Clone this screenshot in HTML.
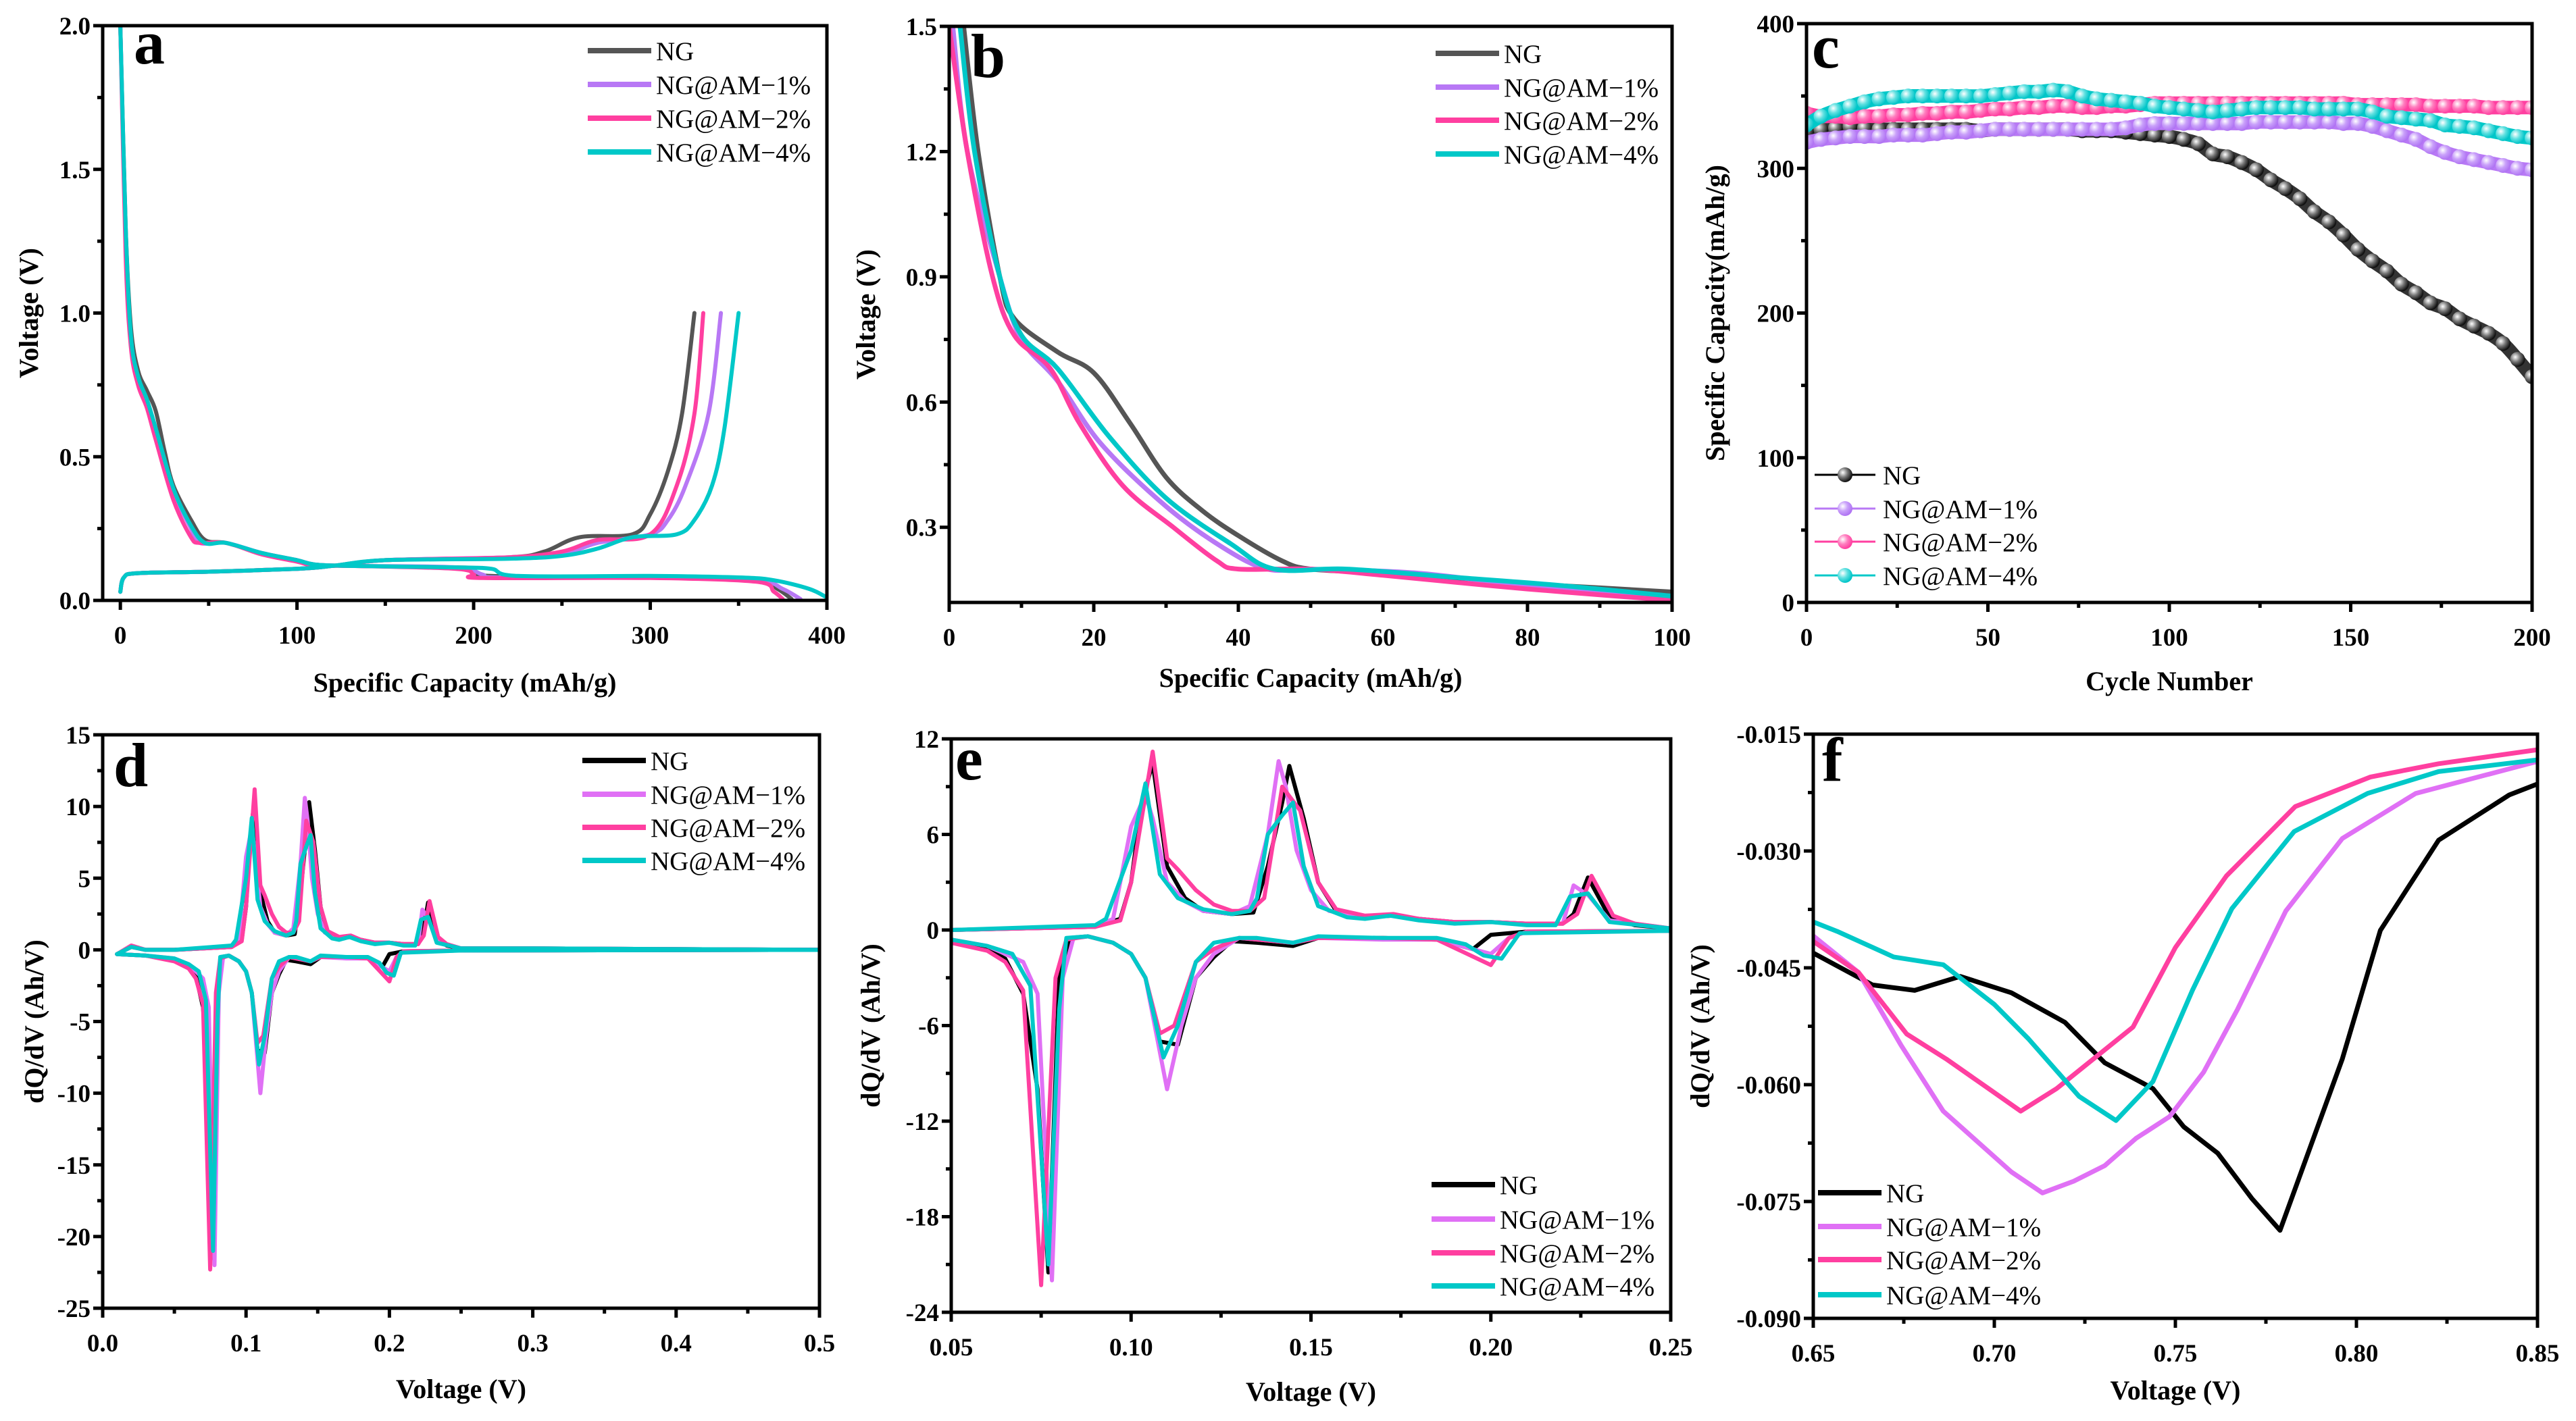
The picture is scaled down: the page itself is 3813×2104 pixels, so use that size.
<!DOCTYPE html>
<html><head><meta charset="utf-8">
<style>
html,body{margin:0;padding:0;background:#fff;}
svg{display:block;}
text{font-family:"Liberation Serif","DejaVu Serif",serif;}
.tick{font-weight:bold;font-size:37px;}
.title{font-weight:bold;font-size:40px;}
.leg{font-size:39px;}
.plab{font-weight:bold;font-size:92px;}
</style></head>
<body>
<svg id="fig" width="3813" height="2104" viewBox="0 0 3813 2104" xmlns="http://www.w3.org/2000/svg">
<defs>
<radialGradient id="gNG" cx="35%" cy="35%" r="65%"><stop offset="0" stop-color="#fff"/><stop offset="0.5" stop-color="#777"/><stop offset="1" stop-color="#111"/></radialGradient>
<radialGradient id="g1" cx="35%" cy="35%" r="65%"><stop offset="0" stop-color="#fff"/><stop offset="0.5" stop-color="#c9a0fa"/><stop offset="1" stop-color="#b074f3"/></radialGradient>
<radialGradient id="g2" cx="35%" cy="35%" r="65%"><stop offset="0" stop-color="#fff"/><stop offset="0.5" stop-color="#ff7fbf"/><stop offset="1" stop-color="#ff3fa0"/></radialGradient>
<radialGradient id="g4" cx="35%" cy="35%" r="65%"><stop offset="0" stop-color="#fff"/><stop offset="0.5" stop-color="#5fe0e0"/><stop offset="1" stop-color="#00c4c8"/></radialGradient>
</defs>
</svg>
<script>
// ---------- Panel a data (capacity mAh/g, voltage V) ----------
const aNGdisX=[0,3,6,10,15,20,25,30,40,48,60,80,100,110,130,190,200,210,300,360,372,380];
const aNGdisY=[2.0,1.3,0.95,0.8,0.73,0.66,0.52,0.4,0.28,0.21,0.2,0.165,0.14,0.125,0.12,0.115,0.11,0.085,0.08,0.07,0.04,0.005];
const aNGchX=[0,2,10,50,100,120,150,220,240,260,290,300,310,318,325];
const aNGchY=[0.03,0.08,0.095,0.1,0.11,0.12,0.14,0.15,0.17,0.22,0.23,0.3,0.45,0.65,1.0];
const a1disX=[0,3,6,10,15,20,30,40,45,60,80,100,110,130,190,205,215,300,360,375,385];
const a1disY=[2.0,1.25,0.9,0.76,0.68,0.58,0.38,0.25,0.2,0.2,0.165,0.14,0.125,0.12,0.115,0.09,0.08,0.08,0.07,0.04,0.005];
const a1chX=[0,2,10,50,100,120,150,220,250,270,300,310,320,333,340];
const a1chY=[0.03,0.08,0.095,0.1,0.11,0.12,0.14,0.15,0.16,0.2,0.23,0.28,0.4,0.65,1.0];
const a2disX=[0,3,6,10,15,20,30,40,45,60,80,100,110,130,190,200,205,300,360,370,375];
const a2disY=[2.0,1.2,0.88,0.75,0.67,0.56,0.35,0.22,0.2,0.2,0.16,0.135,0.12,0.12,0.11,0.09,0.078,0.078,0.065,0.03,0.005];
const a2chX=[0,2,10,50,100,120,150,220,250,270,300,315,325,330];
const a2chY=[0.03,0.08,0.095,0.1,0.11,0.12,0.14,0.15,0.17,0.21,0.23,0.4,0.65,1.0];
const a4disX=[0,3,6,10,15,20,30,40,48,60,80,100,110,130,190,210,225,300,350,370,390,400];
const a4disY=[2.0,1.3,0.92,0.78,0.7,0.6,0.39,0.26,0.2,0.2,0.165,0.14,0.125,0.12,0.115,0.11,0.085,0.085,0.08,0.07,0.04,0.01];
const a4chX=[0,2,10,50,100,120,150,220,250,270,290,315,325,335,342,350];
const a4chY=[0.03,0.08,0.095,0.1,0.11,0.12,0.14,0.145,0.155,0.18,0.22,0.23,0.28,0.4,0.6,1.0];
// ---------- Panel b data ----------
const bNGx=[2,4,7,9,15,20,25,30,35,40,46,50,60,75,90,100];
const bNGy=[1.5,1.2,0.9,0.8,0.72,0.67,0.55,0.42,0.34,0.28,0.22,0.2,0.19,0.17,0.155,0.145];
const b1x=[0.5,2.5,7,10,15,21,30,38,44,50,65,80,100];
const b1y=[1.5,1.2,0.9,0.75,0.65,0.5,0.35,0.25,0.2,0.2,0.19,0.16,0.135];
const b2x=[0,2.5,6,9,14,18,24,31,37,40,50,60,75,85,100];
const b2y=[1.5,1.2,0.9,0.76,0.68,0.55,0.4,0.3,0.22,0.2,0.2,0.185,0.16,0.145,0.125];
const b4x=[1.5,3.5,7,10,15,22,30,39,45,55,70,85,100];
const b4y=[1.5,1.2,0.9,0.76,0.68,0.52,0.37,0.26,0.2,0.2,0.18,0.16,0.135];
// ---------- Panel c data (every 4 cycles, 0..200) ----------
const cCycles=[0,4,8,12,16,20,24,28,32,36,40,44,48,52,56,60,64,68,72,76,80,84,88,92,96,100,104,108,112,116,120,124,128,132,136,140,144,148,152,156,160,164,168,172,176,180,184,188,192,196,200];
const cNG=[325,327,328,329,328,327,327,327,327,327,327,327,326,327,327,327,327,327,327,326,326,326,325,324,323,322,320,317,310,308,304,299,292,286,279,270,263,254,244,236,229,220,214,207,203,196,191,186,179,168,156];
const c1=[318,320,321,322,322,322,323,323,323,324,325,325,326,327,327,327,327,327,327,327,327,327,328,330,331,331,331,331,331,331,331,332,332,332,332,332,332,331,331,329,326,323,320,315,311,308,306,304,302,300,299];
const c2=[338,336,336,335,336,336,337,337,338,338,339,339,340,341,341,342,342,343,343,342,342,343,343,344,345,345,345,345,345,345,345,345,345,345,345,345,345,345,344,344,344,344,344,343,343,343,343,342,342,342,342];
const c4=[330,336,340,343,346,348,349,350,350,350,350,350,350,351,352,353,353,354,353,350,348,347,346,345,343,342,341,340,339,340,341,342,342,342,342,341,341,341,341,339,336,335,334,333,330,329,328,326,324,322,321];
// ---------- Panel d/e data (V, Ah/V) ----------
const dNGchX=[0.01,0.02,0.03,0.05,0.09,0.097,0.1,0.103,0.106,0.11,0.115,0.12,0.128,0.134,0.138,0.142,0.144,0.148,0.152,0.157,0.165,0.173,0.18,0.19,0.2,0.21,0.22,0.223,0.227,0.233,0.24,0.25,0.3,0.5];
const dNGchY=[-0.3,0.2,0,0,0.2,0.7,3,8,10.5,4,2,1.2,1.0,1.1,4,8,10.3,7,3,1.2,0.8,0.9,0.7,0.5,0.5,0.4,0.4,1,3.3,0.8,0.3,0.1,0.1,0];
const dNGdiX=[0.01,0.03,0.05,0.06,0.065,0.07,0.074,0.077,0.08,0.083,0.088,0.095,0.1,0.104,0.108,0.113,0.118,0.123,0.128,0.135,0.145,0.152,0.17,0.185,0.195,0.2,0.205,0.21,0.25,0.5];
const dNGdiY=[-0.3,-0.4,-0.7,-1.2,-1.8,-4,-10,-21.5,-3,-0.5,-0.4,-0.8,-1.5,-3,-7,-7.2,-3,-1.7,-0.7,-0.8,-1.0,-0.5,-0.5,-0.6,-1.2,-0.3,-0.2,-0.1,-0.05,0];
const d1chX=[0.01,0.02,0.03,0.05,0.09,0.095,0.1,0.104,0.106,0.11,0.115,0.12,0.128,0.133,0.138,0.141,0.143,0.146,0.15,0.155,0.165,0.173,0.18,0.19,0.2,0.21,0.22,0.223,0.227,0.233,0.25,0.3,0.5];
const d1chY=[-0.3,0.2,0,0,0.2,0.7,6.5,8.5,7,3,1.8,1.2,1.0,1.5,6,10.6,9,5,2.5,1.2,0.8,0.9,0.7,0.5,0.5,0.4,0.4,2.8,2.2,0.6,0.1,0.1,0];
const d1diX=[0.01,0.03,0.05,0.06,0.065,0.07,0.074,0.078,0.081,0.084,0.088,0.095,0.1,0.104,0.11,0.114,0.118,0.123,0.13,0.14,0.145,0.152,0.17,0.185,0.195,0.2,0.205,0.21,0.25,0.5];
const d1diY=[-0.3,-0.4,-0.6,-1.0,-1.5,-2,-4,-22,-3,-0.5,-0.4,-0.8,-1.5,-3,-10,-6,-3,-1.5,-0.5,-0.7,-0.8,-0.5,-0.6,-0.6,-1.2,-1.5,-0.5,-0.1,-0.05,0];
const d2chX=[0.01,0.02,0.03,0.05,0.09,0.097,0.1,0.106,0.11,0.113,0.118,0.123,0.128,0.133,0.137,0.142,0.147,0.152,0.157,0.165,0.173,0.18,0.19,0.2,0.21,0.22,0.224,0.228,0.234,0.24,0.25,0.3,0.5];
const d2chY=[-0.3,0.3,0,0,0.2,0.6,3,11.2,4.5,3.8,2.5,1.6,1.2,1.2,2,9,7.5,3,1.3,0.9,1.0,0.7,0.5,0.5,0.4,0.4,1,3.4,0.9,0.4,0.1,0.1,0];
const d2diX=[0.01,0.03,0.05,0.06,0.065,0.07,0.075,0.079,0.082,0.088,0.095,0.1,0.104,0.108,0.112,0.118,0.123,0.13,0.14,0.145,0.152,0.17,0.185,0.2,0.205,0.21,0.25,0.5];
const d2diY=[-0.3,-0.4,-0.8,-1.3,-2,-3.8,-22.3,-3,-0.6,-0.4,-0.8,-1.5,-3,-6.5,-6,-2,-1.2,-0.5,-0.7,-0.8,-0.5,-0.5,-0.6,-2.2,-0.5,-0.1,-0.05,0];
const d4chX=[0.01,0.02,0.03,0.05,0.09,0.093,0.1,0.104,0.108,0.113,0.12,0.128,0.133,0.135,0.138,0.142,0.145,0.148,0.152,0.16,0.165,0.172,0.18,0.19,0.2,0.21,0.218,0.222,0.227,0.233,0.25,0.3,0.5];
const d4chY=[-0.3,0.2,0,0,0.3,0.7,5,9.2,3.5,2,1.3,1.0,1.2,2,6,7.2,8,4,1.5,0.8,0.7,0.9,0.6,0.4,0.5,0.3,0.3,2.1,2.3,0.5,0.1,0.1,0];
const d4diX=[0.01,0.03,0.05,0.06,0.067,0.072,0.077,0.08,0.082,0.088,0.095,0.1,0.104,0.109,0.113,0.118,0.123,0.13,0.135,0.145,0.152,0.17,0.185,0.193,0.198,0.203,0.208,0.25,0.5];
const d4diY=[-0.3,-0.4,-0.6,-1.0,-1.5,-3.5,-21,-5,-0.5,-0.4,-0.8,-1.5,-3,-8,-6,-2,-0.8,-0.5,-0.5,-0.8,-0.4,-0.5,-0.5,-0.9,-1.6,-1.8,-0.2,-0.05,0];
// ---------- Panel f data ----------
const fNGx=[0.65,0.6664,0.678,0.6906,0.7047,0.7195,0.7305,0.7438,0.7523,0.7617,0.7711,0.7789,0.7961,0.8066,0.8227,0.8422,0.85];
const fNGy=[-0.0431,-0.0472,-0.0479,-0.0461,-0.0482,-0.052,-0.0572,-0.0605,-0.0654,-0.0688,-0.0746,-0.0787,-0.0567,-0.0402,-0.0286,-0.0228,-0.0214];
const f1x=[0.65,0.6625,0.6742,0.6859,0.7047,0.7133,0.7219,0.7305,0.7391,0.7484,0.7578,0.7672,0.7805,0.7961,0.8164,0.85];
const f1y=[-0.0409,-0.0456,-0.0549,-0.0634,-0.0712,-0.0739,-0.0724,-0.0704,-0.0669,-0.0641,-0.0584,-0.0503,-0.0377,-0.0284,-0.0226,-0.0185];
const f2x=[0.65,0.6625,0.6758,0.6867,0.6984,0.7073,0.7172,0.7383,0.75,0.7641,0.7831,0.8039,0.8227,0.85];
const f2y=[-0.0416,-0.0456,-0.0535,-0.0567,-0.0605,-0.0634,-0.0605,-0.0526,-0.0424,-0.0332,-0.0243,-0.0205,-0.0188,-0.017];
const f4x=[0.65,0.657,0.6722,0.6859,0.7,0.7094,0.7234,0.7336,0.7438,0.7547,0.7656,0.7828,0.8031,0.8227,0.85];
const f4y=[-0.0391,-0.0404,-0.0436,-0.0446,-0.0497,-0.0541,-0.0615,-0.0646,-0.0596,-0.0479,-0.0374,-0.0275,-0.0226,-0.0198,-0.0183];
// tick labels
const aXt=["0","100","200","300","400"], aYt=["0.0","0.5","1.0","1.5","2.0"];
const bXt=["0","20","40","60","80","100"], bYt=["0.3","0.6","0.9","1.2","1.5"];
const cXt=["0","50","100","150","200"], cYt=["0","100","200","300","400"];
const dXt=["0.0","0.1","0.2","0.3","0.4","0.5"], dYt=["-25","-20","-15","-10","-5","0","5","10","15"];
const eXt=["0.05","0.10","0.15","0.20","0.25"], eYt=["-24","-18","-12","-6","0","6","12"];
const fXt=["0.65","0.70","0.75","0.80","0.85"], fYt=["-0.090","-0.075","-0.060","-0.045","-0.030","-0.015"];
const legNames=["NG","NG@AM\u22121%","NG@AM\u22122%","NG@AM\u22124%"];

const NS="http://www.w3.org/2000/svg";
const svg=document.getElementById('fig');
function mk(tag,parent){const e=document.createElementNS(NS,tag);parent.appendChild(e);return e;}
let clipId=0;
function panel(o){
  const g=mk('g',svg);
  
  
  const sx=v=>o.L+(v-o.x0)/(o.x1-o.x0)*(o.R-o.L);
  const sy=v=>o.B-(v-o.y0)/(o.y1-o.y0)*(o.B-o.T);
  o.sx=sx;o.sy=sy;
  const cid='clip'+(clipId++);
  const cp=mk('clipPath',g);cp.setAttribute('id',cid);
  const cr=mk('rect',cp);cr.setAttribute('x',o.L);cr.setAttribute('y',o.T);cr.setAttribute('width',o.R-o.L);cr.setAttribute('height',o.B-o.T);
  const dg=mk('g',g);dg.setAttribute('clip-path','url(#'+cid+')');
  
  
  o.dg=dg;o.g=g;
  const tg=mk('g',g);
  
  
  for(let v=o.x0+o.xoff; v<=o.x1+1e-9; v+=o.xminor){
    const major=Math.abs(((v-o.xMajStart)/o.xmajor)-Math.round((v-o.xMajStart)/o.xmajor))<1e-6;
    const l=mk('line',tg);const X=sx(v);
    l.setAttribute('x1',X);l.setAttribute('x2',X);l.setAttribute('y1',o.B);l.setAttribute('y2',o.B+(major?14:8));
    l.setAttribute('stroke','#000');l.setAttribute('stroke-width',5);
  }
  o.xt.forEach((t,i)=>{
    const v=o.xMajStart+i*o.xmajor;
    const tx=mk('text',tg);tx.setAttribute('class','tick');tx.setAttribute('x',sx(v));tx.setAttribute('y',o.B+64);tx.setAttribute('text-anchor','middle');tx.textContent=t;
    
    
  });
  for(let v=o.yMajStart; v<=o.y1+1e-9; v+=o.yminor){
    const k=(v-o.yMajStart)/o.ymajor;const major=Math.abs(k-Math.round(k))<1e-6;
    const l=mk('line',tg);const Y=sy(v);
    l.setAttribute('y1',Y);l.setAttribute('y2',Y);l.setAttribute('x1',o.L);l.setAttribute('x2',o.L-(major?14:8));
    l.setAttribute('stroke','#000');l.setAttribute('stroke-width',5);
  }
  o.yt.forEach((t,i)=>{
    const v=o.yMajStart+i*o.ymajor;
    const tx=mk('text',tg);tx.setAttribute('class','tick');tx.setAttribute('x',o.L-18);tx.setAttribute('y',sy(v)+13);tx.setAttribute('text-anchor','end');tx.textContent=t;
    
    
  });
  const fr=mk('rect',g);fr.setAttribute('x',o.L);fr.setAttribute('y',o.T);fr.setAttribute('width',o.R-o.L);fr.setAttribute('height',o.B-o.T);
  fr.setAttribute('fill','none');fr.setAttribute('stroke','#000');fr.setAttribute('stroke-width',5);
  
  
  const xl=mk('text',g);xl.setAttribute('class','title');xl.setAttribute('x',(o.L+o.R)/2);xl.setAttribute('y',o.xly);xl.setAttribute('text-anchor','middle');xl.textContent=o.xlab;
  
  
  const yl=mk('text',g);yl.setAttribute('class','title');yl.setAttribute('text-anchor','middle');
  yl.setAttribute('transform','translate('+o.ylx+','+(o.T+o.B)/2+') rotate(-90)');yl.textContent=o.ylab;
  
  
  const pl=mk('text',g);pl.setAttribute('class','plab');pl.setAttribute('x',o.plx);pl.setAttribute('y',o.ply);pl.textContent=o.id;
  
  
  return o;
}
function line(o,xs,ys,color,name,w,smooth){
  const P=xs.map((x,i)=>[o.sx(x),o.sy(ys[i])]);
  const p=mk('path',o.dg);
  let d='M'+P[0][0].toFixed(1)+','+P[0][1].toFixed(1);
  for(let i=0;i<P.length-1;i++){
    if(smooth){
      const p0=P[i-1]||P[i],p1=P[i],p2=P[i+1],p3=P[i+2]||P[i+1];
      const c1x=p1[0]+(p2[0]-p0[0])/6,c1y=p1[1]+(p2[1]-p0[1])/6;
      const c2x=p2[0]-(p3[0]-p1[0])/6,c2y=p2[1]-(p3[1]-p1[1])/6;
      d+=' C'+c1x.toFixed(1)+','+c1y.toFixed(1)+' '+c2x.toFixed(1)+','+c2y.toFixed(1)+' '+p2[0].toFixed(1)+','+p2[1].toFixed(1);
    } else d+=' L'+P[i+1][0].toFixed(1)+','+P[i+1][1].toFixed(1);
  }
  p.setAttribute('d',d);
  p.setAttribute('fill','none');p.setAttribute('stroke',color);p.setAttribute('stroke-width',w||6);p.setAttribute('stroke-linejoin','round');p.setAttribute('stroke-linecap','round');
  
  
}
function legend(o,x,ys,colors,marker){
  const lg=mk('g',o.g);
  
  
  ys.forEach((y,i)=>{
    const l=mk('line',lg);l.setAttribute('x1',x);l.setAttribute('x2',x+(marker?90:94));l.setAttribute('y1',y);l.setAttribute('y2',y);
    l.setAttribute('stroke',colors[i]);l.setAttribute('stroke-width',marker?3:8);
    
    
    if(marker){const c=mk('circle',lg);c.setAttribute('cx',x+45);c.setAttribute('cy',y);c.setAttribute('r',11);c.setAttribute('fill',marker[i]);}
    const t=mk('text',lg);t.setAttribute('class','leg');t.setAttribute('x',x+101);t.setAttribute('y',y+14);t.textContent=legNames[i];
    
    
  });
}
const C1a=['#555555','#b878f5','#ff3fa0','#00c8c8'];
const C1d=['#000000','#e070f5','#ff3fa0','#00c8c8'];

// Panel a
const pa=panel({id:'a',L:152,R:1224,T:38,B:889,x0:-10,x1:400,y0:0,y1:2.0,xoff:10,xminor:50,xmajor:100,xMajStart:0,yminor:0.25,ymajor:0.5,yMajStart:0,xt:aXt,yt:aYt,xlab:'Specific Capacity (mAh/g)',ylab:'Voltage (V)',xly:1024,ylx:56,plx:198,ply:94});
line(pa,aNGdisX,aNGdisY,C1a[0],'ng-discharge',6,true);line(pa,aNGchX,aNGchY,C1a[0],'ng-charge',6,true);
line(pa,a1disX,a1disY,C1a[1],'am1-discharge',6,true);line(pa,a1chX,a1chY,C1a[1],'am1-charge',6,true);
line(pa,a2disX,a2disY,C1a[2],'am2-discharge',6,true);line(pa,a2chX,a2chY,C1a[2],'am2-charge',6,true);
line(pa,a4disX,a4disY,C1a[3],'am4-discharge',6,true);line(pa,a4chX,a4chY,C1a[3],'am4-charge',6,true);
legend(pa,870,[75,125,175,225],C1a);

// Panel b
const pb=panel({id:'b',L:1405,R:2475,T:39,B:892,x0:0,x1:100,y0:0.12,y1:1.5,xoff:0,xminor:10,xmajor:20,xMajStart:0,yminor:0.15,ymajor:0.3,yMajStart:0.3,xt:bXt,yt:bYt,xlab:'Specific Capacity (mAh/g)',ylab:'Voltage (V)',xly:1017,ylx:1295,plx:1437,ply:114});
line(pb,bNGx,bNGy,C1a[0],'ng-curve',7,true);line(pb,b1x,b1y,C1a[1],'am1-curve',7,true);line(pb,b2x,b2y,C1a[2],'am2-curve',7,true);line(pb,b4x,b4y,C1a[3],'am4-curve',7,true);
legend(pb,2125,[79,129,178,228],C1a);

// Panel c
const pc=panel({id:'c',L:2674,R:3748,T:35,B:892,x0:0,x1:200,y0:0,y1:400,xoff:0,xminor:25,xmajor:50,xMajStart:0,yminor:50,ymajor:100,yMajStart:0,xt:cXt,yt:cYt,xlab:'Cycle Number',ylab:'Specific Capacity(mAh/g)',xly:1022,ylx:2552,plx:2682,ply:100});
[[cNG,'#333','url(#gNG)','ng'],[c1,'#b878f5','url(#g1)','am1'],[c2,'#ff3fa0','url(#g2)','am2'],[c4,'#00c8c8','url(#g4)','am4']].forEach(s=>{
  line(pc,cCycles,s[0],s[1],s[3]+'-band',20,true);
  s[0].forEach((v,i)=>{
    const c=mk('circle',pc.dg);c.setAttribute('cx',pc.sx(cCycles[i]));c.setAttribute('cy',pc.sy(v));c.setAttribute('r',11);c.setAttribute('fill',s[2]);
    
    
  });
});
legend(pc,2686,[703,753,802,852],['#000','#b878f5','#ff3fa0','#00c8c8'],['url(#gNG)','url(#g1)','url(#g2)','url(#g4)']);

// Panel d
const pd=panel({id:'d',L:152,R:1213,T:1088,B:1937,x0:0,x1:0.5,y0:-25,y1:15,xoff:0,xminor:0.05,xmajor:0.1,xMajStart:0,yminor:2.5,ymajor:5,yMajStart:-25,xt:dXt,yt:dYt,xlab:'Voltage (V)',ylab:'dQ/dV (Ah/V)',xly:2070,ylx:64,plx:168,ply:1164});
// Panel e
const pe=panel({id:'e',L:1408,R:2473,T:1094,B:1943,x0:0.05,x1:0.25,y0:-24,y1:12,xoff:0,xminor:0.025,xmajor:0.05,xMajStart:0.05,yminor:3,ymajor:6,yMajStart:-24,xt:eXt,yt:eYt,xlab:'Voltage (V)',ylab:'dQ/dV (Ah/V)',xly:2074,ylx:1302,plx:1414,ply:1154});
[pd,pe].forEach(p=>{
  line(p,dNGchX,dNGchY,C1d[0],'ng-charge');line(p,dNGdiX,dNGdiY,C1d[0],'ng-discharge');
  line(p,d1chX,d1chY,C1d[1],'am1-charge');line(p,d1diX,d1diY,C1d[1],'am1-discharge');
  line(p,d2chX,d2chY,C1d[2],'am2-charge');line(p,d2diX,d2diY,C1d[2],'am2-discharge');
  line(p,d4chX,d4chY,C1d[3],'am4-charge');line(p,d4diX,d4diY,C1d[3],'am4-discharge');
});
legend(pd,862,[1126,1176,1225,1274],C1d);
legend(pe,2119,[1754,1805,1855,1904],C1d);

// Panel f
const pf=panel({id:'f',L:2684,R:3756,T:1087,B:1952,x0:0.65,x1:0.85,y0:-0.09,y1:-0.015,xoff:0,xminor:0.025,xmajor:0.05,xMajStart:0.65,yminor:0.0075,ymajor:0.015,yMajStart:-0.09,xt:fXt,yt:fYt,xlab:'Voltage (V)',ylab:'dQ/dV (Ah/V)',xly:2072,ylx:2530,plx:2697,ply:1156});
line(pf,fNGx,fNGy,C1d[0],'ng-curve',7);line(pf,f1x,f1y,C1d[1],'am1-curve',7);line(pf,f2x,f2y,C1d[2],'am2-curve',7);line(pf,f4x,f4y,C1d[3],'am4-curve',7);
legend(pf,2691,[1766,1816,1865,1917],C1d);
</script>
</body></html>
